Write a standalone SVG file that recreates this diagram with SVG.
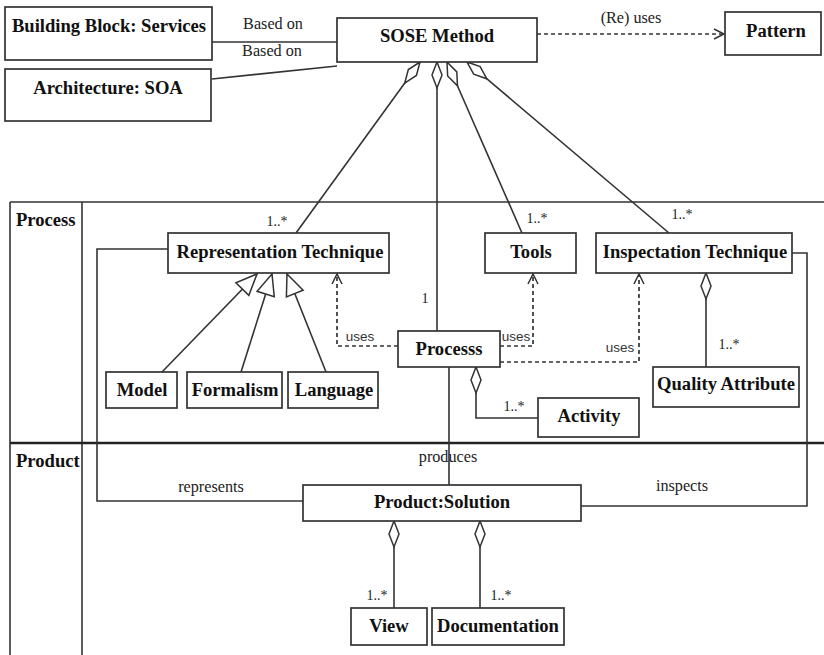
<svg xmlns="http://www.w3.org/2000/svg" width="824" height="655" viewBox="0 0 824 655">
<style>
.box{fill:#fff;stroke:#333;stroke-width:1.7}
.t{font-family:"Liberation Serif","Times New Roman",serif;font-weight:bold;font-size:18.6px;fill:#111;text-anchor:middle}
.lane{font-family:"Liberation Serif","Times New Roman",serif;font-weight:bold;font-size:18.6px;fill:#111}
.lbl{font-family:"Liberation Serif","Times New Roman",serif;font-size:16.2px;fill:#222;text-anchor:middle}
.m{font-family:"Liberation Serif","Times New Roman",serif;font-size:14px;fill:#222;text-anchor:middle}
.u{font-family:"Liberation Sans",Arial,sans-serif;font-size:13.5px;fill:#333;text-anchor:middle}
.ln{fill:none;stroke:#333;stroke-width:1.6}
.dash{fill:none;stroke:#333;stroke-width:1.7;stroke-dasharray:4 3}
.agg{marker-start:url(#diamond)}
.gen{marker-end:url(#tri)}
.dep{marker-end:url(#open)}
</style>
<defs>
<marker id="diamond" markerUnits="userSpaceOnUse" viewBox="-1 -7 30 14" refX="0" refY="0" markerWidth="30" markerHeight="14" orient="auto">
<path d="M0,0 L13,-5 L26,0 L13,5 Z" fill="#fff" stroke="#333" stroke-width="1.5"/>
</marker>
<marker id="tri" markerUnits="userSpaceOnUse" viewBox="-23 -11 25 22" refX="0" refY="0" markerWidth="25" markerHeight="22" orient="auto">
<path d="M0,0 L-21,-9 L-21,9 Z" fill="#fff" stroke="#333" stroke-width="1.5"/>
</marker>
<marker id="open" markerUnits="userSpaceOnUse" viewBox="-12 -7 14 14" refX="0" refY="0" markerWidth="14" markerHeight="14" orient="auto">
<path d="M-10,-5 L0,0 L-10,5" fill="none" stroke="#333" stroke-width="1.5"/>
</marker>
</defs>

<g id="lanes">
<path d="M10,202 H824 M10,202 V655 M82,202 V655" fill="none" stroke="#333" stroke-width="1.6"/>
<path d="M10,443 H824" fill="none" stroke="#222" stroke-width="2.6"/>
<text class="lane" x="16" y="226">Process</text>
<text class="lane" x="16" y="467">Product</text>
</g>

<g id="connectors">
<path class="ln" d="M212,42 H337"/>
<path class="ln" d="M212,79 L337,66"/>
<path class="dash dep" d="M537,34 H724"/>
<path class="ln agg" d="M420,62 L296,233"/>
<path class="ln agg" d="M437,62 V331"/>
<path class="ln agg" d="M447,62 L522,233"/>
<path class="ln agg" d="M467,62 L669,233"/>
<path class="ln gen" d="M162,372 L257,274"/>
<path class="ln gen" d="M241,372 L272,274"/>
<path class="ln gen" d="M326,372 L287,274"/>
<path class="dash dep" d="M398,346 H337 V274"/>
<path class="dash dep" d="M500,346 H533 V274"/>
<path class="dash dep" d="M500,362 H639 V274"/>
<path class="ln agg" d="M706,273 V367"/>
<path class="ln agg" d="M476,367 V418 H538"/>
<path class="ln" d="M449,367 V485"/>
<path class="ln" d="M168,249 H97 V501 H303"/>
<path class="ln" d="M792,253 H807 V506 H581"/>
<path class="ln agg" d="M394,521 V608"/>
<path class="ln agg" d="M480,521 V608"/>
<text class="lbl" x="273" y="29">Based on</text>
<text class="lbl" x="272" y="56">Based on</text>
<text class="lbl" x="631" y="23">(Re) uses</text>
<text class="u" x="360" y="341">uses</text>
<text class="u" x="516" y="341">uses</text>
<text class="u" x="620" y="352">uses</text>
<text class="lbl" x="211" y="492">represents</text>
<text class="lbl" x="682" y="491">inspects</text>
<text class="lbl" x="448" y="462">produces</text>
<text class="m" x="277" y="226">1..*</text>
<text class="m" x="537" y="223">1..*</text>
<text class="m" x="682" y="219">1..*</text>
<text class="m" x="425" y="303">1</text>
<text class="m" x="729" y="349">1..*</text>
<text class="m" x="514" y="411">1..*</text>
<text class="m" x="377" y="600">1..*</text>
<text class="m" x="501" y="600">1..*</text>
</g>

<g id="building-block"><rect class="box" x="5" y="7" width="207" height="53"/><text class="t" x="109" y="32">Building Block: Services</text></g>
<g id="architecture"><rect class="box" x="5" y="69" width="206" height="52"/><text class="t" x="108" y="94">Architecture: SOA</text></g>
<g id="sose-method"><rect class="box" x="337" y="18" width="200" height="44"/><text class="t" x="437" y="42">SOSE Method</text></g>
<g id="pattern"><rect class="box" x="725" y="12" width="96" height="43"/><text class="t" x="776" y="37">Pattern</text></g>
<g id="representation-technique"><rect class="box" x="168" y="233" width="221" height="40"/><text class="t" x="280" y="258">Representation Technique</text></g>
<g id="tools"><rect class="box" x="485" y="233" width="91" height="40"/><text class="t" x="531" y="258">Tools</text></g>
<g id="inspectation-technique"><rect class="box" x="596" y="233" width="196" height="40"/><text class="t" x="695" y="258">Inspectation Technique</text></g>
<g id="processs"><rect class="box" x="398" y="331" width="102" height="36"/><text class="t" x="449" y="355">Processs</text></g>
<g id="model"><rect class="box" x="106" y="372" width="71" height="36"/><text class="t" x="142" y="396">Model</text></g>
<g id="formalism"><rect class="box" x="187" y="372" width="95" height="36"/><text class="t" x="235" y="396">Formalism</text></g>
<g id="language"><rect class="box" x="288" y="372" width="90" height="36"/><text class="t" x="334" y="396">Language</text></g>
<g id="quality-attribute"><rect class="box" x="653" y="367" width="146" height="40"/><text class="t" x="726" y="390">Quality Attribute</text></g>
<g id="activity"><rect class="box" x="538" y="398" width="101" height="39"/><text class="t" x="589" y="422">Activity</text></g>
<g id="product-solution"><rect class="box" x="303" y="485" width="278" height="36"/><text class="t" x="442" y="508">Product:Solution</text></g>
<g id="view"><rect class="box" x="351" y="608" width="76" height="37"/><text class="t" x="389" y="632">View</text></g>
<g id="documentation"><rect class="box" x="432" y="608" width="132" height="37"/><text class="t" x="498" y="632">Documentation</text></g>
</svg>
